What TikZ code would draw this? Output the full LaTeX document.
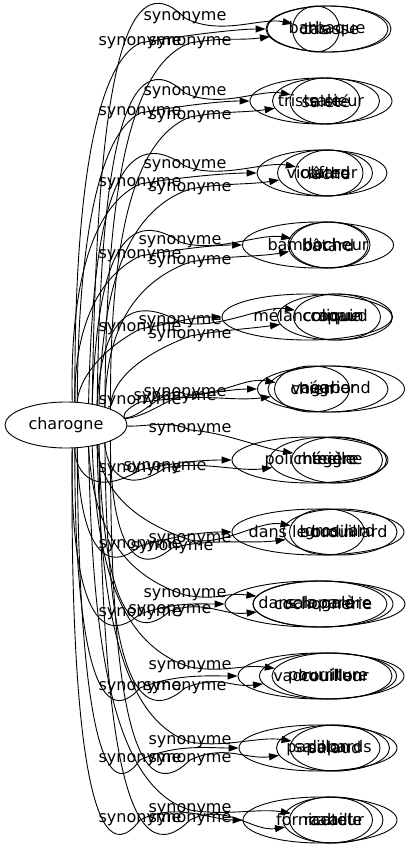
\documentclass[tikz,border=0pt]{standalone}
\usepackage{fontspec}
\setmainfont{DejaVu Sans}
\usetikzlibrary{shapes.geometric,arrows.meta,calc}
\begin{document}
\begin{tikzpicture}[x=1pt,y=-1pt,
  word/.style={ellipse,draw,line width=0.9pt,minimum height=46pt,inner sep=0pt,font=\fontsize{16}{19}\selectfont},
  lbl/.style={inner sep=0pt,font=\fontsize{16}{19}\selectfont},
  edge/.style={draw,line width=0.9pt,-{Triangle[length=10pt,width=7pt]}}]
\useasboundingbox (0,0) rectangle (406,851);
\clip (0,0) rectangle (406,851);
\node[word,minimum width=122pt] (charogne) at (66,425) {\makebox[0pt]{charogne}};
% row 1
\node[word,minimum width=122pt] (n1a) at (327,29) {\makebox[0pt]{barbaque}};
\node[word,minimum width=124pt] (n1b) at (329,29) {\makebox[0pt]{chiasse}};
\node[word,minimum width=47pt] (n1c) at (316,29) {\makebox[0pt]{tas}};
% row 2
\node[word,minimum width=142pt] (n2a) at (321,101) {\makebox[0pt]{triste sieur}};
\node[word,minimum width=107pt] (n2b) at (326,101) {\makebox[0pt]{saleté}};
\node[word,minimum width=70pt] (n2c) at (325,101) {\makebox[0pt]{sale}};
% row 3
\node[word,minimum width=130pt] (n3a) at (322,173) {\makebox[0pt]{violateur}};
\node[word,minimum width=95pt] (n3b) at (325,173) {\makebox[0pt]{cafard}};
\node[word,minimum width=68pt] (n3c) at (329,173) {\makebox[0pt]{lâche}};
% row 4
\node[word,minimum width=151pt] (n4a) at (318,245) {\makebox[0pt]{bambocheur}};
\node[word,minimum width=80pt] (n4b) at (328,245) {\makebox[0pt]{bâtard}};
\node[word,minimum width=80pt] (n4c) at (330,245) {\makebox[0pt]{loche}};
% row 5
\node[word,minimum width=170pt] (n5a) at (307,317) {\makebox[0pt]{mélancolique}};
\node[word,minimum width=115pt] (n5b) at (335,317) {\makebox[0pt]{crapaud}};
\node[word,minimum width=87pt] (n5c) at (337,317) {\makebox[0pt]{coquin}};
% row 6
\node[word,minimum width=147pt] (n6a) at (331,389) {\makebox[0pt]{vagabond}};
\node[word,minimum width=120pt] (n6b) at (328,389) {\makebox[0pt]{négrier}};
\node[word,minimum width=75pt] (n6c) at (312,389) {\makebox[0pt]{chien}};
% row 7
\node[word,minimum width=156pt] (n7a) at (310,460) {\makebox[0pt]{polichinelle}};
\node[word,minimum width=117pt] (n7b) at (328,460) {\makebox[0pt]{mégère}};
\node[word,minimum width=91pt] (n7c) at (337,460) {\makebox[0pt]{teigne}};
% row 8
\node[word,minimum width=172pt] (n8a) at (318,532) {\makebox[0pt]{dans le brouillard}};
\node[word,minimum width=114pt] (n8b) at (340,532) {\makebox[0pt]{gros lard}};
\node[word,minimum width=75pt] (n8c) at (327,532) {\makebox[0pt]{boudin}};
% row 9
\node[word,minimum width=180pt] (n9a) at (315,604) {\makebox[0pt]{dans la galère}};
\node[word,minimum width=140pt] (n9b) at (323,604) {\makebox[0pt]{cochonnerie}};
\node[word,minimum width=134pt] (n9c) at (320,604) {\makebox[0pt]{salopard}};
% row 10
\node[word,minimum width=166pt] (n10a) at (321,676) {\makebox[0pt]{vadrouilleur}};
\node[word,minimum width=137pt] (n10b) at (328,676) {\makebox[0pt]{pourriture}};
\node[word,minimum width=120pt] (n10c) at (332,676) {\makebox[0pt]{couillon}};
% row 11
\node[word,minimum width=158pt] (n11a) at (318,748) {\makebox[0pt]{papillon}};
\node[word,minimum width=113pt] (n11b) at (333,748) {\makebox[0pt]{salopards}};
\node[word,minimum width=90pt] (n11c) at (335,748) {\makebox[0pt]{salaud}};
% row 12
\node[word,minimum width=154pt] (n12a) at (320,820) {\makebox[0pt]{fornicateur}};
\node[word,minimum width=100pt] (n12b) at (333,820) {\makebox[0pt]{racaille}};
\node[word,minimum width=83pt] (n12c) at (331,820) {\makebox[0pt]{cabot}};
% edges with labels
\foreach \i/\k/\lx/\ly/\tn/\xs in {
 1/1/185/18/n1c/96, 1/2/140/43/n1a/74, 1/3/190/43/n1b/106,
 2/1/185/93/n2c/100, 2/2/140/113/n2a/78, 2/3/190/117/n2b/110,
 3/1/185/166/n3c/92, 3/2/140/184/n3a/70, 3/3/190/189/n3b/102,
 4/1/180/242/n4c/96, 4/2/140/256/n4a/74, 4/3/190/262/n4b/106,
 5/1/180/322/n5c/100, 5/2/140/329/n5a/78, 5/3/190/336/n5b/110,
 6/1/185/394/n6c/92, 6/2/140/402/n6a/80, 6/3/175/398/n6b/102,
 7/1/190/430/n7c/96, 7/2/140/470/n7a/74, 7/3/165/468/n7b/106,
 8/1/190/540/n8c/100, 8/2/140/546/n8a/78, 8/3/172/548/n8b/110,
 9/1/185/595/n9c/92, 9/2/140/614/n9a/70, 9/3/170/611/n9b/102,
 10/1/190/667/n10c/96, 10/2/140/688/n10a/74, 10/3/185/688/n10b/106,
 11/1/190/742/n11c/100, 11/2/140/760/n11a/78, 11/3/190/760/n11b/110,
 12/1/190/810/n12c/92, 12/2/140/820/n12a/70, 12/3/190/820/n12b/102}{
  \node[lbl] (l\i-\k) at (\lx,\ly) {synonyme};
  \pgfmathsetmacro{\far}{abs(\ly-425)}
  \pgfmathsetmacro{\up}{\ly<425}
  \pgfmathsetmacro{\sg}{\k==1 ? -1 : 1}
  \pgfmathsetmacro{\pbf}{\k==1 ? \ly-25-\up*0.12*\far : \ly+25+(1-\up)*0.12*\far}
  \pgfmathtruncatemacro{\nr}{abs(\pbf-425)<60}
  \pgfmathsetmacro{\pby}{\nr==1 ? \ly+10*\sg : \pbf}
  \pgfmathsetmacro{\pbx}{\nr==1 ? \lx-20 : \xs+15}
  \pgfmathsetmacro{\pax}{\nr==1 ? (\lx+128)/2-10 : \xs}
  \pgfmathsetmacro{\pay}{\nr==1 ? 425+0.3*(\ly-425) : 425+0.55*(\pby-425)}
  \pgfmathsetmacro{\pcx}{\lx+35}
  \pgfmathsetmacro{\pcy}{\ly+0.25*(\ly-\pby)}
  \pgfmathsetmacro{\off}{\k==1 ? -12 : (\k==2 ? 0 : 12)}
  \pgfmathtruncatemacro{\ang}{(\up>0.5 ? 1 : -1)*(75-(\xs-70)*1.375)}
  \ifnum\nr=1 \def\st{charogne}\else\edef\st{charogne.\ang}\fi
  \draw[edge] (\st) .. controls (\pax,\pay) and (\pbx,\pby) .. (l\i-\k.center) .. controls (\pcx,\pcy) and ($(\tn.west)+(-30,\off)$) .. (\tn);
}
\end{tikzpicture}
\end{document}
